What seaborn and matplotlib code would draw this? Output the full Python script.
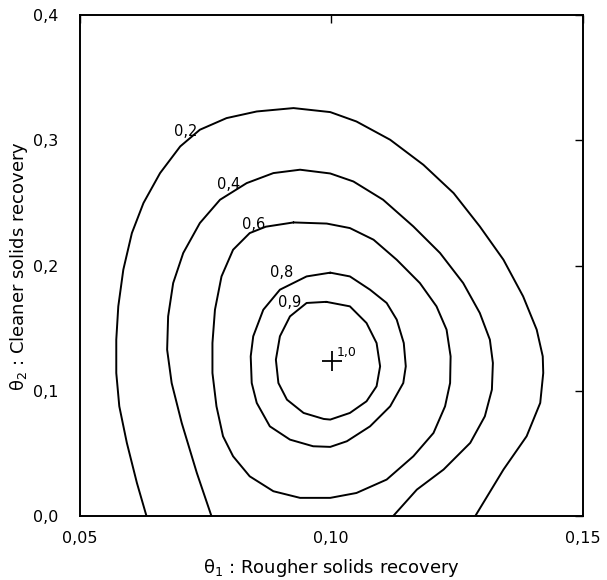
import matplotlib
matplotlib.use("Agg")
import matplotlib.pyplot as plt
import seaborn as sns
import pandas as pd

# ---- contour lines (theta1, theta2) ----
c02_x = [0.0633, 0.0614, 0.0594, 0.0579, 0.0573, 0.0573, 0.0577, 0.0587, 0.0604, 0.0627,
         0.0660, 0.0700, 0.0739, 0.0792, 0.0852, 0.0925, 0.0998, 0.1050, 0.1117, 0.1183,
         0.1243, 0.1295, 0.1342, 0.1381, 0.1408, 0.1420, 0.1421, 0.1415, 0.1388, 0.1342,
         0.1286]
c02_y = [0.0000, 0.0264, 0.0584, 0.0876, 0.1142, 0.1408, 0.1674, 0.1967, 0.2259, 0.2499,
         0.2738, 0.2951, 0.3084, 0.3177, 0.3230, 0.3257, 0.3225, 0.3150, 0.3004, 0.2804,
         0.2578, 0.2312, 0.2046, 0.1754, 0.1488, 0.1275, 0.1142, 0.0903, 0.0637, 0.0371,
         0.0000]

c04_x = [0.0762, 0.0733, 0.0703, 0.0683, 0.0674, 0.0676, 0.0686, 0.0706, 0.0739, 0.0779,
         0.0832, 0.0885, 0.0938, 0.0998, 0.1044, 0.1103, 0.1163, 0.1216, 0.1262, 0.1295,
         0.1315, 0.1321, 0.1319, 0.1305, 0.1276, 0.1223, 0.1170, 0.1123]
c04_y = [0.0000, 0.0344, 0.0743, 0.1062, 0.1328, 0.1594, 0.1860, 0.2100, 0.2339, 0.2525,
         0.2658, 0.2738, 0.2765, 0.2735, 0.2671, 0.2525, 0.2312, 0.2100, 0.1860, 0.1621,
         0.1408, 0.1222, 0.1009, 0.0796, 0.0584, 0.0371, 0.0211, 0.0000]

c06_x = [0.0925, 0.0991, 0.1037, 0.1084, 0.1130, 0.1176, 0.1209, 0.1229, 0.1237, 0.1236,
         0.1226, 0.1203, 0.1163, 0.1110, 0.1050, 0.0998, 0.0938, 0.0885, 0.0838, 0.0805,
         0.0785, 0.0772, 0.0764, 0.0764, 0.0769, 0.0782, 0.0805, 0.0838, 0.0870, 0.0925]
c06_y = [0.2344, 0.2335, 0.2299, 0.2206, 0.2046, 0.1860, 0.1674, 0.1488, 0.1275, 0.1062,
         0.0876, 0.0663, 0.0477, 0.0291, 0.0184, 0.0145, 0.0145, 0.0198, 0.0317, 0.0477,
         0.0637, 0.0876, 0.1142, 0.1381, 0.1647, 0.1913, 0.2126, 0.2259, 0.2310, 0.2344]

c08_x = [0.0998, 0.1037, 0.1077, 0.1110, 0.1130, 0.1144, 0.1148, 0.1143, 0.1117, 0.1077,
         0.1031, 0.0998, 0.0964, 0.0918, 0.0878, 0.0852, 0.0842, 0.0840, 0.0845, 0.0865,
         0.0898, 0.0951, 0.0998]
c08_y = [0.1943, 0.1913, 0.1807, 0.1701, 0.1568, 0.1381, 0.1195, 0.1062, 0.0876, 0.0716,
         0.0597, 0.0552, 0.0557, 0.0610, 0.0716, 0.0903, 0.1062, 0.1275, 0.1435, 0.1647,
         0.1807, 0.1913, 0.1943]

c09_x = [0.0990, 0.1037, 0.1070, 0.1090, 0.1097, 0.1090, 0.1070, 0.1037, 0.0998, 0.0985,
         0.0945, 0.0912, 0.0895, 0.0890, 0.0898, 0.0918, 0.0951, 0.0990]
c09_y = [0.1710, 0.1674, 0.1541, 0.1381, 0.1195, 0.1036, 0.0916, 0.0823, 0.0770, 0.0775,
         0.0823, 0.0929, 0.1062, 0.1248, 0.1435, 0.1594, 0.1701, 0.1710]

levels = ["0,2", "0,4", "0,6", "0,8", "0,9"]
optimum_x = [0.1001]
optimum_y = [0.1235]
optimum_label = "1,0"

xtick_values = [0.05, 0.10, 0.15]
xtick_labels = ["0,05", "0,10", "0,15"]
ytick_values = [0.0, 0.1, 0.2, 0.3, 0.4]
ytick_labels = ["0,0", "0,1", "0,2", "0,3", "0,4"]

x_title = "θ$_1$ : Rougher solids recovery"
y_title = "θ$_2$ : Cleaner solids recovery"

# where each contour label is written (beside its line)
label_pos_x = [0.0710, 0.0796, 0.0845, 0.0901, 0.0917]
label_pos_y = [0.3070, 0.2645, 0.2326, 0.1945, 0.1701]
optimum_label_pos = (0.1031, 0.1302)

# ---- build one long table ----
frames = []
for lev, xs, ys in zip(levels, [c02_x, c04_x, c06_x, c08_x, c09_x],
                       [c02_y, c04_y, c06_y, c08_y, c09_y]):
    frames.append(pd.DataFrame({"x": xs, "y": ys, "level": lev}))
df = pd.concat(frames, ignore_index=True)

sns.set_theme(style="white")
plt.rcParams["font.family"] = ["DejaVu Sans"]

fig = plt.figure(figsize=(6.07, 5.80), dpi=100)
ax = fig.add_axes([0.131, 0.1103, 0.8295, 0.8638])

for lev in levels:
    sub = df[df["level"] == lev]
    sns.lineplot(data=sub, x="x", y="y", sort=False, estimator=None,
                 color="black", linewidth=1.4, ax=ax, legend=False)

sns.scatterplot(x=optimum_x, y=optimum_y, marker="+", s=200, color="black",
                linewidth=1.3, ax=ax, legend=False)
ax.text(optimum_label_pos[0], optimum_label_pos[1], optimum_label, fontsize=9,
        ha="center", va="center", color="black")

for lab, lx, ly in zip(levels, label_pos_x, label_pos_y):
    ax.text(lx, ly, lab, fontsize=10.5, ha="center", va="center", color="black")

ax.set_xlim(0.05, 0.15)
ax.set_ylim(0.0, 0.4)
ax.set_xticks(xtick_values)
ax.set_xticklabels(xtick_labels)
ax.set_yticks(ytick_values)
ax.set_yticklabels(ytick_labels)
ax.tick_params(direction="in", length=6, width=1.0, top=True, right=True,
               labelsize=11.5, colors="black")
ax.tick_params(axis="x", pad=11)
ax.tick_params(axis="y", pad=15)
for sp in ax.spines.values():
    sp.set_color("black")
    sp.set_linewidth(1.4)

ax.set_xlabel(x_title, fontsize=13, labelpad=8, color="black")
ax.set_ylabel(y_title, fontsize=13, labelpad=2, color="black")

fig.savefig("out.png", dpi=100, facecolor="white")
